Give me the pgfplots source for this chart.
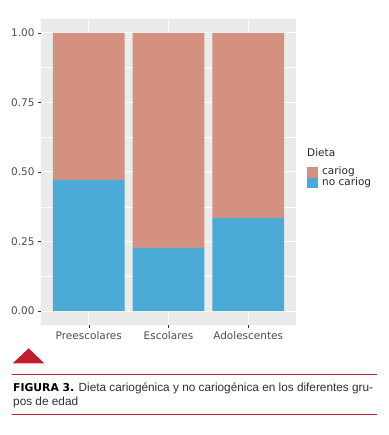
\documentclass[border=0pt]{standalone}
\usepackage{pgfplots}
\pgfplotsset{compat=1.18}
\usepackage{fontspec}
\setmainfont{DejaVu Sans}
\newfontfamily\capfont{Liberation Sans}
\newfontfamily\capbold{DejaVu Sans}
\definecolor{cariog}{RGB}{213,145,128}
\definecolor{nocariog}{RGB}{75,170,214}
\definecolor{panelbg}{RGB}{235,235,235}
\definecolor{ticklab}{RGB}{77,77,77}
\definecolor{capred}{RGB}{190,30,45}
\definecolor{captext}{RGB}{45,45,60}
\begin{document}
\begin{tikzpicture}
\path[use as bounding box] (0,0) rectangle (388pt,-435pt);
\begin{axis}[
  at={(41pt,-325pt)}, anchor=south west,
  width=255pt, height=306pt, scale only axis,
  xmin=0.4, xmax=3.6, ymin=-0.05, ymax=1.05,
  axis background/.style={fill=panelbg},
  axis line style={draw=none},
  ybar stacked, bar width=0.9,
  xtick={1,2,3}, xticklabels={Preescolares,Escolares,Adolescentes},
  ytick={0,0.25,0.5,0.75,1},
  yticklabels={0.00,0.25,0.50,0.75,1.00},
  minor ytick={0.125,0.375,0.625,0.875},
  grid=both,
  major grid style={white,line width=1pt},
  minor grid style={white,line width=0.5pt},
  tick align=outside, major tick length=3pt, minor tick length=0pt,
  tick pos=left,
  tick style={black!80,line width=0.6pt},
  ticklabel style={font=\fontsize{10.5}{12}\selectfont, text=ticklab},
  reverse legend,
  legend image code/.code={\fill[#1] (0pt,-5.3pt) rectangle (11pt,5.3pt);},
  legend cell align=left,
  legend style={draw=none, fill=none, at={(1.043,0.517)}, anchor=north west,
    inner sep=0pt, row sep=0pt, column sep=4pt,
    nodes={inner sep=0pt, font=\fontsize{10.5}{12}\selectfont, text=black!85, text height=7.6pt, text depth=3pt}},
]
\addplot[fill=nocariog, draw=none] coordinates {(1,0.472) (2,0.227) (3,0.334)};
\addlegendentry{no cariog}
\addplot[fill=cariog, draw=none] coordinates {(1,0.528) (2,0.773) (3,0.666)};
\addlegendentry{cariog}
\end{axis}
\node[anchor=west, inner sep=0pt, font=\fontsize{10.5}{12}\selectfont, text=black!85] at (307pt,-153pt) {Dieta};
\fill[capred] (12.7pt,-363.3pt) -- (44.3pt,-363.3pt) -- (28.7pt,-348.3pt) -- cycle;
\draw[capred, line width=0.9pt] (12pt,-374.3pt) -- (377pt,-374.3pt);
\draw[capred, line width=0.9pt] (12pt,-414.3pt) -- (377pt,-414.3pt);
\node[anchor=base west, inner sep=0pt, text=captext, font=\capfont\fontsize{11.8}{13}\selectfont] at (13pt,-391.7pt) {{\capbold\bfseries\fontsize{10.8}{13}\selectfont\color{black}FIGURA 3.} Dieta cariogénica y no cariogénica en los diferentes gru-};
\node[anchor=base west, inner sep=0pt, text=captext, font=\capfont\fontsize{11.8}{13}\selectfont] at (13pt,-405.3pt) {pos de edad};
\end{tikzpicture}
\end{document}
